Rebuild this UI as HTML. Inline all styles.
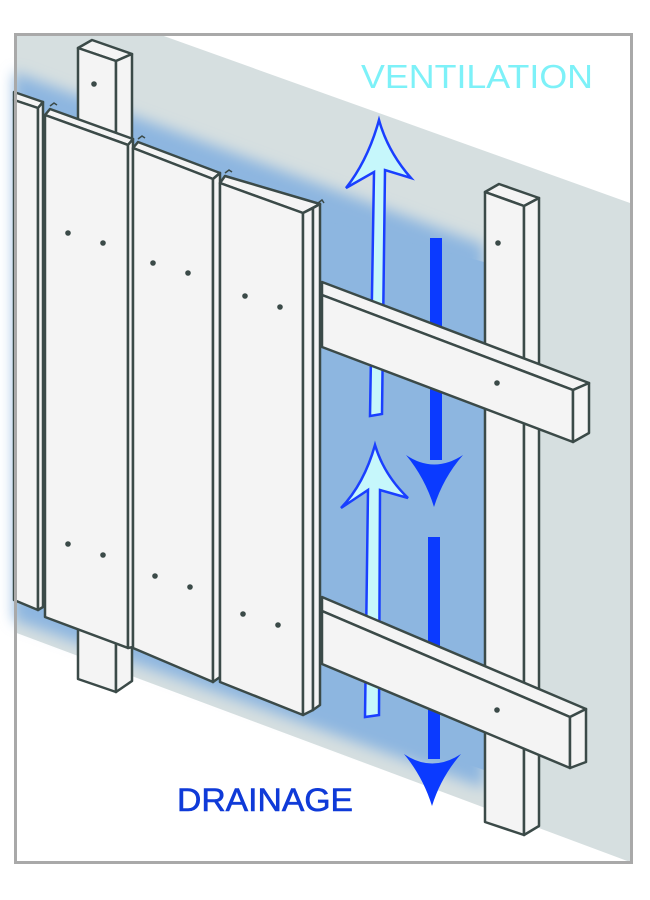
<!DOCTYPE html>
<html><head><meta charset="utf-8"><style>
html,body{margin:0;padding:0;background:#fff;}
svg{display:block;}
</style></head><body>
<svg width="650" height="900" viewBox="0 0 650 900" xmlns="http://www.w3.org/2000/svg">
<defs>
<filter id="bl" x="-20%" y="-20%" width="140%" height="140%"><feGaussianBlur stdDeviation="7"/></filter>
</defs>
<rect x="0" y="0" width="650" height="900" fill="#fff"/>
<!-- wall -->
<polygon points="14,35 161,35 630,203 630,862 14,632" fill="#d6dfe0"/>
<!-- blue cavity -->
<g filter="url(#bl)">
<polygon points="14,72 484,245 484,788 14,620" fill="#8db6e0"/>
</g>
<polygon points="330,222 484,262 484,770 330,715" fill="#8db6e0"/>

<g stroke="#3b4a48" stroke-width="2.5" stroke-linejoin="round" fill="#f4f4f4">
<!-- right stud -->
<polygon points="485,192 499,184 539,198 524,206"/>
<polygon points="485,192 524,206 524,835 485,822"/>
<polygon points="524,206 539,198 539,826 524,835"/>
<!-- left stud -->
<polygon points="78,48 92,40 132,54 116,61"/>
<polygon points="78,48 116,61 116,692 78,679"/>
<polygon points="116,61 132,54 132,681 116,692"/>
</g>

<!-- arrows -->
<g stroke="#1a3fff" stroke-width="2.5" fill="#c6f7fb" stroke-linejoin="miter">
<path d="M379,120 Q368,160 346,188 L374,172 L370,416 L382,414 L385,170 L411,178 Q388,152 379,120 Z"/>
<path d="M375,445 Q364,484 341,508 L368,490 L365,717 L379,715 L380,490 L408,498 Q384,475 375,445 Z"/>
</g>
<g fill="#0b3aff">
<rect x="430" y="238" width="12" height="222"/>
<path d="M406,455 Q434,474 463,455 Q443,478 434,507 Q425,478 406,455 Z"/>
<rect x="428" y="537" width="12" height="222"/>
<path d="M404,754 Q432,773 461,754 Q441,777 432,806 Q423,777 404,754 Z"/>
</g>

<g stroke="#3b4a48" stroke-width="2.5" stroke-linejoin="round" fill="#f4f4f4">
<!-- upper batten -->
<polygon points="322,282 589,383 573,390 322,295"/>
<polygon points="322,295 573,390 573,442 322,347"/>
<polygon points="573,390 589,383 589,433 573,442"/>
<!-- lower batten -->
<polygon points="322,597 586,709 570,717 322,611"/>
<polygon points="322,611 570,717 570,768 322,664"/>
<polygon points="570,717 586,709 586,762 570,768"/>

<!-- partial board -->
<polygon points="14,100 38,108 43,102 14,92"/>
<polygon points="14,100 38,108 38,610 14,600"/>
<polygon points="38,108 43,102 43,607 38,610"/>
<!-- board 1 -->
<polygon points="45,115 128,145 133,139 50,109"/>
<polygon points="45,115 128,145 128,648 45,617"/>
<polygon points="128,145 133,139 133,647 128,648"/>
<!-- board 2 -->
<polygon points="133,148 213,179 220,173 138,142"/>
<polygon points="133,148 213,179 213,682 133,648"/>
<polygon points="213,179 220,173 220,677 213,682"/>
<!-- board 3 -->
<polygon points="220,183 303,213 320,204 225,176"/>
<polygon points="220,183 303,213 303,715 220,682"/>
<polygon points="303,213 313,208 313,710 303,715"/>
<polygon points="313,208 320,204 320,705 313,710"/>
</g>
<!-- tongue marks -->
<g stroke="#3b4a48" stroke-width="1.5" fill="none">
<path d="M50,106 l4,-3 l3,2"/>
<path d="M138,139 l4,-3 l3,2"/>
<path d="M225,173 l4,-3 l3,2"/>
<path d="M318,203 l4,-3 l2,3"/>
</g>

<g fill="#3b4a48">
<circle cx="94" cy="84" r="2.8"/>
<circle cx="498" cy="243" r="2.8"/>
<circle cx="497" cy="383" r="2.8"/>
<circle cx="497" cy="710" r="2.8"/>
<circle cx="68" cy="233" r="2.8"/><circle cx="103" cy="243" r="2.8"/>
<circle cx="68" cy="544" r="2.8"/><circle cx="103" cy="555" r="2.8"/>
<circle cx="153" cy="263" r="2.8"/><circle cx="188" cy="273" r="2.8"/>
<circle cx="155" cy="576" r="2.8"/><circle cx="190" cy="587" r="2.8"/>
<circle cx="245" cy="296" r="2.8"/><circle cx="280" cy="307" r="2.8"/>
<circle cx="243" cy="614" r="2.8"/><circle cx="278" cy="625" r="2.8"/>
</g>

<rect x="15.5" y="34.5" width="616" height="828" fill="none" stroke="#a9a9a9" stroke-width="3"/>

<text x="361" y="88" font-family="Liberation Sans, sans-serif" font-size="33" fill="#7df1f8" textLength="232" lengthAdjust="spacingAndGlyphs">VENTILATION</text>
<text x="177" y="811" font-family="Liberation Sans, sans-serif" font-size="32" fill="#0f3ad8" stroke="#0f3ad8" stroke-width="0.6" textLength="176" lengthAdjust="spacingAndGlyphs">DRAINAGE</text>
</svg>
</body></html>
